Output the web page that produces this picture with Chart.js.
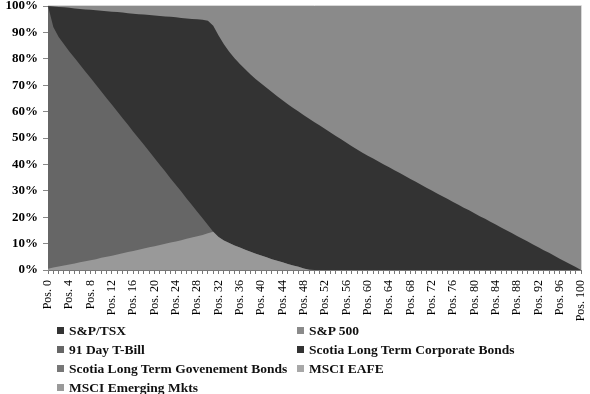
<!DOCTYPE html>
<html>
<head>
<meta charset="utf-8">
<script src="https://cdn.jsdelivr.net/npm/chart.js@4.4.1/dist/chart.umd.min.js"></script>
<style>
  html, body { margin: 0; padding: 0; background: #fff; }
  #wrap { position: relative; width: 590px; height: 394px; overflow: hidden; }
  #c { position: absolute; left: 0; top: 0; }
  .leg { position: absolute; font: bold 13.5px "Liberation Serif", "Times New Roman", serif; color: #111; white-space: nowrap; line-height: 19px; }
  .leg span.m { display: inline-block; width: 7px; height: 7px; margin-right: 5px; vertical-align: 1px; }
</style>
</head>
<body>
<div id="wrap">
  <canvas id="c" width="590" height="394"></canvas>
  <div id="legend"></div>
</div>
<script>
// ---- data (percent of portfolio at each position on the frontier) ----
const positions = ["Pos. 0","Pos. 1","Pos. 2","Pos. 3","Pos. 4","Pos. 5","Pos. 6","Pos. 7","Pos. 8","Pos. 9",
  "Pos. 10","Pos. 11","Pos. 12","Pos. 13","Pos. 14","Pos. 15","Pos. 16","Pos. 17","Pos. 18","Pos. 19",
  "Pos. 20","Pos. 21","Pos. 22","Pos. 23","Pos. 24","Pos. 25","Pos. 26","Pos. 27","Pos. 28","Pos. 29",
  "Pos. 30","Pos. 31","Pos. 32","Pos. 33","Pos. 34","Pos. 35","Pos. 36","Pos. 37","Pos. 38","Pos. 39",
  "Pos. 40","Pos. 41","Pos. 42","Pos. 43","Pos. 44","Pos. 45","Pos. 46","Pos. 47","Pos. 48","Pos. 49",
  "Pos. 50","Pos. 51","Pos. 52","Pos. 53","Pos. 54","Pos. 55","Pos. 56","Pos. 57","Pos. 58","Pos. 59",
  "Pos. 60","Pos. 61","Pos. 62","Pos. 63","Pos. 64","Pos. 65","Pos. 66","Pos. 67","Pos. 68","Pos. 69",
  "Pos. 70","Pos. 71","Pos. 72","Pos. 73","Pos. 74","Pos. 75","Pos. 76","Pos. 77","Pos. 78","Pos. 79",
  "Pos. 80","Pos. 81","Pos. 82","Pos. 83","Pos. 84","Pos. 85","Pos. 86","Pos. 87","Pos. 88","Pos. 89",
  "Pos. 90","Pos. 91","Pos. 92","Pos. 93","Pos. 94","Pos. 95","Pos. 96","Pos. 97","Pos. 98","Pos. 99",
  "Pos. 100"];

const spTsx = [0,0,0,0,0,0,0,0,0,0, 0,0,0,0,0,0,0,0,0,0, 0,0,0,0,0,0,0,0,0,0,
  0,0,0,0,0,0,0,0,0,0, 0,0,0,0,0,0,0,0,0,0, 0,0,0,0,0,0,0,0,0,0,
  0,0,0,0,0,0,0,0,0,0, 0,0,0,0,0,0,0,0,0,0, 0,0,0,0,0,0,0,0,0,0, 0,0,0,0,0,0,0,0,0,0, 0];
const scotiaGov = [0,0,0,0,0,0,0,0,0,0, 0,0,0,0,0,0,0,0,0,0, 0,0,0,0,0,0,0,0,0,0,
  0,0,0,0,0,0,0,0,0,0, 0,0,0,0,0,0,0,0,0,0, 0,0,0,0,0,0,0,0,0,0,
  0,0,0,0,0,0,0,0,0,0, 0,0,0,0,0,0,0,0,0,0, 0,0,0,0,0,0,0,0,0,0, 0,0,0,0,0,0,0,0,0,0, 0];
const msciEm = [0,0,0,0,0,0,0,0,0,0, 0,0,0,0,0,0,0,0,0,0, 0,0,0,0,0,0,0,0,0,0,
  0,0,0,0,0,0,0,0,0,0, 0,0,0,0,0,0,0,0,0,0, 0,0,0,0,0,0,0,0,0,0,
  0,0,0,0,0,0,0,0,0,0, 0,0,0,0,0,0,0,0,0,0, 0,0,0,0,0,0,0,0,0,0, 0,0,0,0,0,0,0,0,0,0, 0];

const msciEafe = [0.5,0.9,1.3,1.7,2.1,2.5,2.9,3.3,3.7,4.1,
  4.6,5.0,5.4,5.9,6.3,6.8,7.2,7.7,8.1,8.6,
  9.0,9.5,9.9,10.4,10.8,11.3,11.8,12.3,12.8,13.3,
  13.9,14.5,12.5,11.2,10.2,9.3,8.5,7.7,6.9,6.2,
  5.5,4.8,4.1,3.5,2.9,2.3,1.7,1.2,0.6,0.1,
  0,0,0,0,0,0,0,0,0,0, 0,0,0,0,0,0,0,0,0,0, 0,0,0,0,0,0,0,0,0,0,
  0,0,0,0,0,0,0,0,0,0, 0,0,0,0,0,0,0,0,0,0, 0];

const tBill = [99.5,91.1,87.0,83.8,80.7,77.8,74.8,71.9,69.0,66.1,
  63.0,60.1,57.2,54.1,51.2,48.2,45.2,42.2,39.3,36.3,
  33.3,30.3,27.4,24.3,21.4,18.4,15.3,12.3,9.3,6.3,
  3.1,0,0,0,0,0,0,0,0,0, 0,0,0,0,0,0,0,0,0,0,
  0,0,0,0,0,0,0,0,0,0, 0,0,0,0,0,0,0,0,0,0, 0,0,0,0,0,0,0,0,0,0,
  0,0,0,0,0,0,0,0,0,0, 0,0,0,0,0,0,0,0,0,0, 0];

const scotiaCorp = [0,7.8,11.3,14.0,16.5,18.8,21.2,23.5,25.9,28.2,
  30.6,32.9,35.2,37.7,40.0,42.3,44.7,47.0,49.4,51.7,
  54.1,56.4,58.7,61.2,63.5,65.8,68.2,70.5,72.9,75.2,
  77.4,78.0,76.3,74.3,72.5,70.9,69.5,68.3,67.2,66.1,
  65.1,64.2,63.3,62.3,61.4,60.5,59.7,58.8,58.0,57.2,
  56.0,54.7,53.4,52.1,50.8,49.5,48.2,46.9,45.6,44.4,
  43.3,42.2,41.1,40.0,38.9,37.8,36.7,35.6,34.5,33.4,
  32.3,31.2,30.1,29.0,27.9,26.9,25.8,24.7,23.6,22.6,
  21.5,20.4,19.4,18.3,17.2,16.1,15.1,14.0,12.9,11.8,
  10.8,9.7,8.6,7.5,6.5,5.4,4.3,3.2,2.2,1.1,
  0];

const sp500 = [0,0.2,0.4,0.5,0.7,0.9,1.1,1.3,1.4,1.6,
  1.8,2.0,2.2,2.3,2.5,2.7,2.9,3.1,3.2,3.4,
  3.6,3.8,4.0,4.1,4.3,4.5,4.7,4.9,5.0,5.2,
  5.6,7.5,11.2,14.5,17.3,19.8,22.0,24.0,25.9,27.7,
  29.4,31.0,32.6,34.2,35.7,37.2,38.6,40.0,41.4,42.7,
  44.0,45.3,46.6,47.9,49.2,50.5,51.8,53.1,54.4,55.6,
  56.7,57.8,58.9,60.0,61.1,62.2,63.3,64.4,65.5,66.6,
  67.7,68.8,69.9,71.0,72.1,73.1,74.2,75.3,76.4,77.4,
  78.5,79.6,80.6,81.7,82.8,83.9,84.9,86.0,87.1,88.2,
  89.2,90.3,91.4,92.5,93.5,94.6,95.7,96.8,97.8,98.9,
  100];

const yTicks = [0,10,20,30,40,50,60,70,80,90,100];

// series names in legend order and their colours
const legendNames = ["S&P/TSX","S&P 500","91 Day T-Bill","Scotia Long Term Corporate Bonds",
  "Scotia Long Term Govenement Bonds","MSCI EAFE","MSCI Emerging Mkts"];
const legendColors = ["#333333","#8a8a8a","#666666","#333333","#777777","#a8a8a8","#9a9a9a"];

// ---- datasets, bottom of stack first ----
const stackSeries = [
  { name: "S&P/TSX", data: spTsx, color: "#333333" },
  { name: "Scotia Long Term Govenement Bonds", data: scotiaGov, color: "#777777" },
  { name: "MSCI Emerging Mkts", data: msciEm, color: "#9a9a9a" },
  { name: "MSCI EAFE", data: msciEafe, color: "#999999" },
  { name: "91 Day T-Bill", data: tBill, color: "#666666" },
  { name: "Scotia Long Term Corporate Bonds", data: scotiaCorp, color: "#333333" },
  { name: "S&P 500", data: sp500, color: "#8a8a8a" }
];

const frame = {
  id: 'frame',
  afterDraw(chart) {
    const a = chart.chartArea, ctx = chart.ctx;
    ctx.save();
    ctx.strokeStyle = '#d8d8d8';
    ctx.lineWidth = 1;
    ctx.beginPath();
    ctx.moveTo(a.left, a.top - 0.5);
    ctx.lineTo(a.right + 0.5, a.top - 0.5);
    ctx.lineTo(a.right + 0.5, a.bottom);
    ctx.stroke();
    ctx.restore();
  }
};

new Chart(document.getElementById('c'), {
  type: 'line',
  data: {
    labels: positions,
    datasets: stackSeries.map(s => ({
      label: s.name,
      data: s.data,
      backgroundColor: s.color,
      borderColor: s.color,
      borderWidth: 0,
      pointRadius: 0,
      tension: 0,
      fill: 'origin'
    }))
  },
  options: {
    responsive: false,
    animation: false,
    layout: { padding: { left: 0, right: 9, top: 6, bottom: 70 } },
    plugins: { legend: { display: false }, tooltip: { enabled: false } },
    scales: {
      x: {
        stacked: true,
        offset: false,
        grid: { display: true, drawOnChartArea: false, drawTicks: true, tickLength: 4, color: '#777', tickColor: '#777' },
        border: { display: true, color: '#777' },
        ticks: {
          autoSkip: false, maxRotation: 90, minRotation: 90, padding: 6,
          color: '#000',
          font: { family: "'Liberation Serif', 'Times New Roman', serif", size: 12 },
          callback: function(v, i) { return i % 4 === 0 ? positions[i] : ''; }
        },
        afterFit(scale) { scale.height = 54; scale.paddingLeft = 0; scale.paddingRight = 0; }
      },
      y: {
        stacked: true,
        min: 0, max: 100,
        afterBuildTicks(scale) { scale.ticks = yTicks.map(v => ({ value: v })); },
        grid: { display: true, drawOnChartArea: false, drawTicks: true, tickLength: 5, color: '#888', tickColor: '#888' },
        border: { display: true, color: '#888' },
        ticks: {
          padding: 5, color: '#000',
          font: { family: "'Liberation Serif', 'Times New Roman', serif", size: 13, weight: 'bold' },
          callback: v => v + '%'
        },
        afterFit(scale) { scale.width = 48; scale.paddingTop = 0; scale.paddingBottom = 0; }
      }
    }
  },
  plugins: [frame]
});

// ---- legend (two columns, row-major order) ----
const legend = document.getElementById('legend');
const colX = [57, 297];
const rowY = [321, 340, 359, 378];
legendNames.forEach((name, i) => {
  const d = document.createElement('div');
  d.className = 'leg';
  d.style.left = colX[i % 2] + 'px';
  d.style.top = rowY[Math.floor(i / 2)] + 'px';
  const m = document.createElement('span');
  m.className = 'm';
  m.style.background = legendColors[i];
  d.appendChild(m);
  d.appendChild(document.createTextNode(name));
  legend.appendChild(d);
});
</script>
</body>
</html>
